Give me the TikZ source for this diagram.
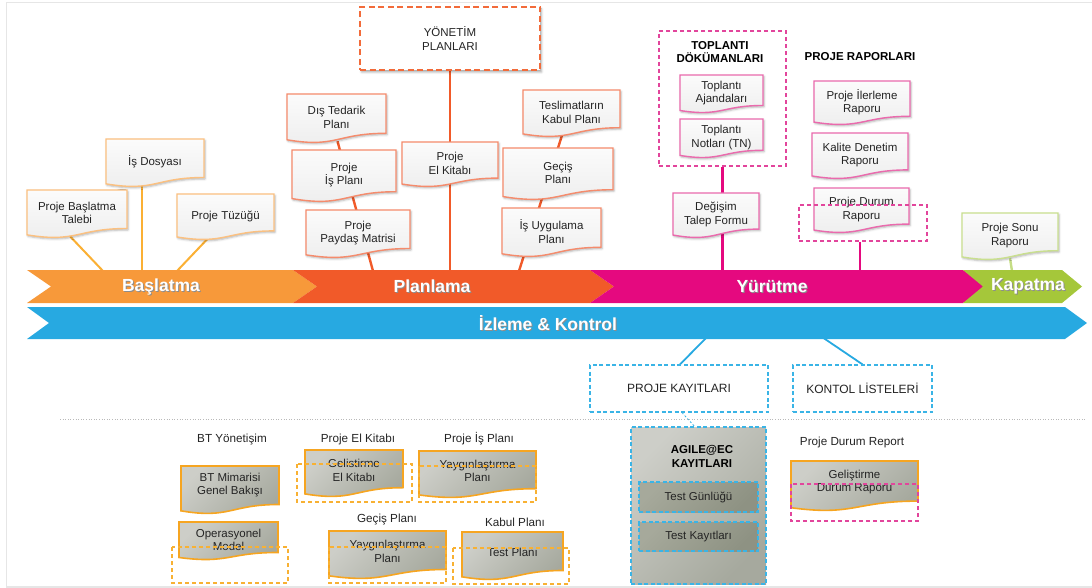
\documentclass[tikz,border=0pt]{standalone}
\usepackage{fontspec}
\setmainfont{Liberation Sans}
\usetikzlibrary{shadows.blur}
\pgfdeclarelayer{back}
\pgfsetlayers{back,main}

% phase colours
\definecolor{cStart}{HTML}{F7993A}
\definecolor{cPlan}{HTML}{F15A29}
\definecolor{cExec}{HTML}{E5097F}
\definecolor{cClose}{HTML}{A5C73A}
\definecolor{cMon}{HTML}{27A9E1}
% connectors and borders
\definecolor{lnStart}{HTML}{FBB034}
\definecolor{bdStart}{HTML}{FBC080}
\definecolor{bdPlan}{HTML}{F58B6C}
\definecolor{bdExec}{HTML}{EA6AAD}
\definecolor{bdClose}{HTML}{C9DF8F}
\definecolor{lnClose}{HTML}{C5DD85}
\definecolor{bdDark}{HTML}{F6A521}
\definecolor{dashPink}{HTML}{E2459C}
\definecolor{dashBlue}{HTML}{3AB4E6}
\definecolor{dashOrange}{HTML}{F26B3A}
\definecolor{dashYellow}{HTML}{F8B133}
\definecolor{grayL}{HTML}{CDCEC8}
\definecolor{grayD}{HTML}{A6A99E}
\definecolor{grayDL}{HTML}{A6A99B}
\definecolor{grayDD}{HTML}{8E9283}
\definecolor{txt}{HTML}{242424}
\definecolor{frameGray}{HTML}{E6E6E6}

\tikzset{
  every node/.style={text=txt},
  boxfont/.style={font=\fontsize{11.5}{13.5}\selectfont},
  docfrac/.store in=\docfrac, docfrac=0.48,
  paper/.style={draw=#1, line width=1.4pt, top color=gray!3, bottom color=gray!14,
    blur shadow={shadow xshift=1pt, shadow yshift=-1.5pt, shadow blur steps=4, shadow opacity=30}},
  darkpaper/.style={draw=bdDark, line width=1.6pt, top color=grayL, bottom color=grayD, shading angle=45},
  docpaper/.style={paper=bdStart},
  startdoc/.style={docpaper/.style={paper=bdStart}},
  plandoc/.style={docpaper/.style={paper=bdPlan}},
  execdoc/.style={docpaper/.style={paper=bdExec}},
  closedoc/.style={docpaper/.style={paper=bdClose}},
  graydoc/.style={docpaper/.style={darkpaper}},
  band/.style={font=\fontsize{17.5}{20}\bfseries\selectfont, text=white},
  conn/.style={line width=#1},
  pinkbox/.style={draw=dashPink, line width=1.2pt, dash pattern=on 4pt off 3pt, inner sep=0pt},
  bluebox/.style={draw=dashBlue, line width=1.2pt, dash pattern=on 4pt off 2.5pt, inner sep=0pt},
  yellowbox/.style={draw=dashYellow, line width=1.2pt, dash pattern=on 4pt off 3pt},
  label/.style={font=\fontsize{11.7}{13.5}\selectfont},
  bold/.style={font=\fontsize{11.5}{13.5}\bfseries\selectfont, align=center, text=black},
}

% document sheet with a wavy lower edge: [options]{name}{x1}{y1}{x2}{y2}{text}
\newcommand\docbox[7][]{%
  \begin{scope}[#1]
    \path[docpaper] (#3,#4) -- (#5,#4) -- (#5,{#4+0.802*(#6-#4)})
      .. controls ({(#3+#5)/2},{#4+0.802*(#6-#4)}) and ({(#3+#5)/2},{#4+1.1075*(#6-#4)})
      .. (#3,{#4+0.934*(#6-#4)}) -- cycle;
    \node[boxfont, align=center, inner sep=0pt,
      minimum width={(#5-#3)*1pt}, minimum height={2*\docfrac*(#6-#4)*1pt}]
      (#2) at ({(#3+#5)/2},{#4+\docfrac*(#6-#4)}) {#7};
  \end{scope}}

% arrow-shaped phase band: {colour}{left}{right}{top}{bottom}{tip depth}
\newcommand\chevron[6]{%
  \fill[#1] (#2,#4) -- (#3,#4) -- ({#3+#6},{(#4+#5)/2}) -- (#3,#5) -- (#2,#5)
    -- ({#2+#6},{(#4+#5)/2}) -- cycle;}

\newcommand\shadowed[1]{\rlap{\kern1pt\raisebox{-1pt}{\color{black!45}#1}}#1}

\begin{document}
\begin{tikzpicture}[x=1pt,y=-1pt]
\useasboundingbox (0,0) rectangle (1092,588);

% outer frame
\draw[frameGray, line width=1.5pt] (1092,2.5) -- (6.5,2.5) -- (6.5,587) -- (1092,587);

% ---------- phase bands ----------
\chevron{cStart}{27}{293}{270}{303}{24}
\chevron{cPlan}{293}{590}{270}{303}{24}
\chevron{cExec}{590}{963}{270}{303}{24}
\chevron{cClose}{963}{1062}{270}{303}{20}
\chevron{cMon}{27}{1065}{307}{339}{22}

\node[band] (lblStart) at (161,287) {\shadowed{Başlatma}};
\node[band] (lblPlan) at (432,287) {\shadowed{Planlama}};
\node[band] (lblExec) at (772,287) {\shadowed{Yürütme}};
\node[band] (lblClose) at (1028,287) {\shadowed{Kapatma}};
\node[band] (lblMon) at (548,324) {\shadowed{İzleme \& Kontrol}};

% attachment points on the bands
\coordinate (s1) at (103,271);
\coordinate (s2) at (142,271);
\coordinate (s3) at (177,271);
\coordinate (p1) at (373,271);
\coordinate (p2) at (450,271);
\coordinate (p3) at (519,271);
\coordinate (e1) at (722.5,271);
\coordinate (e2) at (860,271);
\coordinate (c1) at (1012,271);
\coordinate (m1) at (707,337);
\coordinate (m2) at (822,337);

% ---------- initiation ----------
\docbox[startdoc]{talebi}{27}{190}{127}{238}{Proje Başlatma\\Talebi}
\docbox[startdoc]{isdos}{106}{139}{204}{187}{İş Dosyası}
\docbox[startdoc]{tuzuk}{177}{194}{274}{240}{Proje Tüzüğü}

% ---------- planning ----------
\node[draw=dashOrange, line width=1.8pt, dash pattern=on 6pt off 3.5pt, fill=white,
  minimum width=180pt, minimum height=63pt, boxfont, align=center,
  blur shadow={shadow xshift=1.5pt, shadow yshift=-2pt, shadow blur steps=4, shadow opacity=35}]
  (yonetim) at (450,38.5) {YÖNETİM\\PLANLARI};
\docbox[plandoc]{tedarik}{287}{94}{386}{143}{Dış Tedarik\\Planı}
\docbox[plandoc]{isplan}{292}{150}{396}{202}{Proje\\İş Planı}
\docbox[plandoc]{paydas}{306}{210}{410}{258}{Proje\\Paydaş Matrisi}
\docbox[plandoc]{elkitabi}{402}{142}{498}{187}{Proje\\El Kitabı}
\docbox[plandoc]{teslim}{523}{90}{620}{137}{Teslimatların\\Kabul Planı}
\docbox[plandoc]{gecis}{503}{148}{613}{200}{Geçiş\\Planı}
\docbox[plandoc]{isuyg}{502}{208}{601}{257}{İş Uygulama\\Planı}

% ---------- execution ----------
\node[pinkbox, minimum width=127pt, minimum height=135pt] (toplgrp) at (722.5,98.5) {};
\node[bold] (topltitle) at (720,52) {TOPLANTI\\DÖKÜMANLARI};
\docbox[execdoc]{ajanda}{680}{75}{763}{113}{Toplantı\\Ajandaları}
\docbox[execdoc]{notlar}{680}{119}{763}{158}{Toplantı\\Notları (TN)}
\docbox[execdoc]{degisim}{673}{193}{759}{238}{Değişim\\Talep Formu}
\node[bold] (raportitle) at (860,57) {PROJE RAPORLARI};
\docbox[execdoc]{ilerleme}{814}{81}{910}{125}{Proje İlerleme\\Raporu}
\docbox[execdoc]{kalite}{812}{133}{908}{179}{Kalite Denetim\\Raporu}
\docbox[execdoc]{durum}{814}{188}{909}{233}{Proje Durum\\Raporu}
\node[pinkbox, minimum width=128pt, minimum height=36pt] (durumsel) at (863,223) {};

% ---------- closing ----------
\docbox[closedoc]{sonu}{962}{213}{1058}{260}{Proje Sonu\\Raporu}

% ---------- monitoring ----------
\node[bluebox, minimum width=178pt, minimum height=47pt, font=\fontsize{12}{14}\selectfont]
  (kayit) at (679,388.5) {PROJE KAYITLARI};
\node[bluebox, minimum width=139pt, minimum height=47pt, font=\fontsize{12}{14}\selectfont]
  (kontrol) at (862.5,388.5) {KONTOL LİSTELERİ};

% separator
\draw[gray!55, line width=0.6pt, dotted] (60,419.5) -- (1085,419.5);

% ---------- lower section ----------
\node[label] (lblBT) at (232,439) {BT Yönetişim};
\node[label] (lblEK) at (358,439) {Proje El Kitabı};
\node[label] (lblIP) at (479,439) {Proje İş Planı};
\node[label] (lblGP) at (387,519) {Geçiş Planı};
\node[label] (lblKP) at (515,522) {Kabul Planı};
\node[label] (lblDR) at (852,442) {Proje Durum Report};

\docbox[graydoc, docfrac=0.4]{btmim}{181}{466}{279}{514}{BT Mimarisi\\Genel Bakışı}
\docbox[graydoc, docfrac=0.47]{opmodel}{179}{522}{278}{560}{Operasyonel\\Model}
\docbox[graydoc, docfrac=0.43]{gelel}{305}{450}{403}{497}{Gelistirme\\El Kitabı}
\docbox[graydoc, docfrac=0.42]{yayga}{419}{451}{536}{498}{Yaygınlaştırma\\Planı}
\docbox[graydoc, docfrac=0.42]{yayg}{329}{531}{446}{579}{Yaygınlaştırma\\Planı}
\docbox[graydoc, docfrac=0.42]{testplan}{462}{532}{563}{580}{Test Planı}
\docbox[graydoc, docfrac=0.42]{geldurum}{791}{461}{918}{511}{Geliştirme\\Durum Raporu}

\draw[yellowbox] (172,547) rectangle (288,583);
\draw[yellowbox] (297,464) rectangle (412,502);
\draw[yellowbox] (419,466) rectangle (536,502);
\draw[yellowbox] (329,547) rectangle (446,583);
\draw[yellowbox] (453,548) rectangle (569,584);
\draw[pinkbox] (791,484) rectangle (918,521);

% test records
\node[bluebox, minimum width=135pt, minimum height=157pt, top color=grayL, bottom color=grayD,
  shading angle=45] (agile) at (698.5,505.5) {};
\node[bold] (agiletitle) at (702,456.5) {AGILE@EC\\KAYITLARI};
\node[bluebox, minimum width=119pt, minimum height=30pt, top color=grayDL, bottom color=grayDD,
  shading angle=45, boxfont] (gunluk) at (698.5,497) {Test Günlüğü};
\node[bluebox, minimum width=119pt, minimum height=29pt, top color=grayDL, bottom color=grayDD,
  shading angle=45, boxfont] (kayitlar) at (698.5,536.5) {Test Kayıtları};

% ---------- connectors (behind everything) ----------
\begin{pgfonlayer}{back}
  \draw[lnStart, conn=2pt] ([xshift=-7pt]talebi.south) -- (s1);
  \draw[lnStart, conn=2pt] ([xshift=-13pt]isdos.south) -- (s2);
  \draw[lnStart, conn=2pt] ([xshift=-17.5pt]tuzuk.south) -- (s3);
  \draw[cPlan, conn=2.4pt] ([xshift=1pt]tedarik.south) -- (p1);
  \draw[cPlan, conn=2.4pt] (yonetim.south) -- (p2);
  \draw[cPlan, conn=2.4pt] ([xshift=-9.5pt]teslim.south) -- (p3);
  \draw[cExec, conn=2.4pt] (toplgrp.south) -- (e1);
  \draw[cExec, conn=2.4pt] ([xshift=-3pt]durumsel.south) -- (e2);
  \draw[lnClose, conn=2.4pt] (sonu.south) -- (c1);
  \draw[cMon, conn=1.8pt] (m1) -- ([xshift=1pt]kayit.north);
  \draw[cMon, conn=1.8pt] (m2) -- (kontrol.north);
  \draw[dashBlue, conn=0.8pt, dash pattern=on 2pt off 2pt] ([xshift=3pt]kayit.south) -- ([xshift=-4pt]agile.north);
\end{pgfonlayer}
\end{tikzpicture}
\end{document}
